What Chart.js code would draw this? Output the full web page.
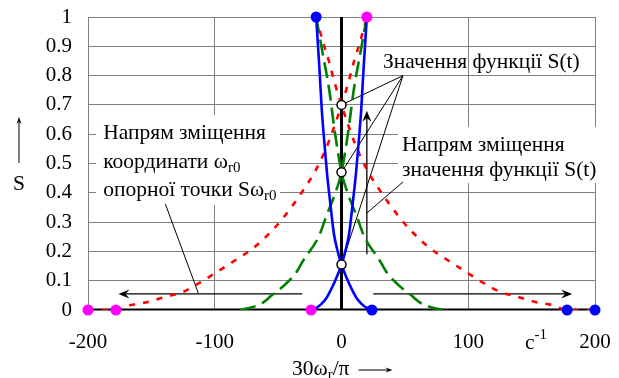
<!DOCTYPE html>
<html>
<head>
<meta charset="utf-8">
<script src="https://cdn.jsdelivr.net/npm/chart.js@4.4.0/dist/chart.umd.min.js"></script>
<style>
  html, body { margin: 0; padding: 0; background: #fff; }
</style>
</head>
<body>
<canvas id="chart" width="619" height="378"></canvas>
<script>
// axis ticks
var xTicks = [-200, -100, 0, 100, 200];
var yTicks = [0, 0.1, 0.2, 0.3, 0.4, 0.5, 0.6, 0.7, 0.8, 0.9, 1];

// red dotted curves
var redLeftX  = [-200, -178, -166, -153, -139, -125, -111, -100, -82, -70, -55, -45, -30, -20, -10, 0, 5, 10, 15, 20];
var redLeftY  = [0, 0, 0.017, 0.027, 0.045, 0.062, 0.095, 0.125, 0.175, 0.21, 0.27, 0.32, 0.41, 0.48, 0.575, 0.70, 0.77, 0.85, 0.92, 1];
var redRightX = [-20, -15, -10, -5, 0, 10, 20, 30, 45, 55, 70, 82, 100, 111, 125, 139, 153, 166, 178, 200];
var redRightY = [1, 0.92, 0.85, 0.77, 0.70, 0.575, 0.48, 0.41, 0.32, 0.27, 0.21, 0.175, 0.125, 0.095, 0.062, 0.045, 0.027, 0.017, 0, 0];

// green dashed curves
var greenLeftX  = [-80, -70, -62, -55, -45, -36, -30, -18, -12, -4, 0, 5, 10, 15, 20];
var greenLeftY  = [0, 0.01, 0.025, 0.05, 0.085, 0.126, 0.17, 0.25, 0.32, 0.41, 0.47, 0.6, 0.76, 0.88, 1];
var greenRightX = [-20, -15, -10, -5, 0, 4, 12, 18, 30, 36, 45, 55, 62, 70, 80];
var greenRightY = [1, 0.88, 0.76, 0.6, 0.47, 0.41, 0.32, 0.25, 0.17, 0.126, 0.085, 0.05, 0.025, 0.01, 0];

// blue solid curves
var blueLeftX  = [-24, -20, -16, -12, -8, -4, 0, 3, 6, 9, 11.5, 13.5, 15.5, 17.5, 20];
var blueLeftY  = [0, 0.007, 0.02, 0.04, 0.072, 0.11, 0.155, 0.2, 0.26, 0.37, 0.47, 0.57, 0.68, 0.83, 1];
var blueRightX = [-20, -17.5, -15.5, -13.5, -11.5, -9, -6, -3, 0, 4, 8, 12, 16, 20, 24];
var blueRightY = [1, 0.83, 0.68, 0.57, 0.47, 0.37, 0.26, 0.2, 0.155, 0.11, 0.072, 0.04, 0.02, 0.007, 0];

// end points of the curves
var magentaX = [-200, -178, -24, 20];
var magentaY = [0, 0, 0, 1];
var blueDotX = [-20, 24, 178, 200];
var blueDotY = [1, 0, 0, 0];

// values of S(t) at zero
var crossX = [0, 0, 0];
var crossY = [0.70, 0.47, 0.155];

// thick axis lines
var axisHX = [-200, 200], axisHY = [0, 0];
var axisVX = [0, 0], axisVY = [0, 1];

function pts(xs, ys) {
    return xs.map(function (x, i) { return { x: x, y: ys[i] }; });
}

var FONT = '"Liberation Serif", "Times New Roman", serif';

function richText(ctx, parts, x, y, size) {
    // parts: [text, 'sub'|'sup'|undefined]
    var cx = x;
    parts.forEach(function (p) {
        if (p[1] === 'sub') {
            ctx.font = Math.round(size * 0.68) + 'px ' + FONT;
            ctx.fillText(p[0], cx, y + size * 0.3);
        } else if (p[1] === 'sup') {
            ctx.font = Math.round(size * 0.68) + 'px ' + FONT;
            ctx.fillText(p[0], cx, y - size * 0.35);
        } else {
            ctx.font = size + 'px ' + FONT;
            ctx.fillText(p[0], cx, y);
        }
        cx += ctx.measureText(p[0]).width;
    });
    return cx;
}

function arrow(ctx, x1, y1, x2, y2, len, half) {
    var a = Math.atan2(y2 - y1, x2 - x1);
    ctx.beginPath();
    ctx.moveTo(x1, y1);
    ctx.lineTo(x2 - Math.cos(a) * 3, y2 - Math.sin(a) * 3);
    ctx.stroke();
    ctx.save();
    ctx.translate(x2, y2);
    ctx.rotate(a);
    ctx.beginPath();
    ctx.moveTo(0, 0);
    ctx.lineTo(-len, -half);
    ctx.lineTo(-len * 0.65, 0);
    ctx.lineTo(-len, half);
    ctx.closePath();
    ctx.fill();
    ctx.restore();
}

function noOverhang(s) {
    s.paddingTop = 0;
    s.paddingBottom = 0;
    s.paddingLeft = 0;
    s.paddingRight = 0;
}

var notes = {
    id: 'notes',
    beforeDatasetsDraw: function (chart) {
        var ctx = chart.ctx;
        var xs = chart.scales.x, ys = chart.scales.y;
        var X = function (v) { return xs.getPixelForValue(v); };
        var Y = function (v) { return ys.getPixelForValue(v); };
        var size = 21.5;

        ctx.save();
        // white boxes behind the labels
        ctx.fillStyle = '#fff';
        ctx.fillRect(96, 115, 184, 90);
        ctx.fillRect(398, 127, 221, 56);

        ctx.fillStyle = '#000';
        ctx.strokeStyle = '#000';
        ctx.textBaseline = 'middle';
        ctx.textAlign = 'left';

        // left label
        richText(ctx, [['Напрям зміщення']], X(-188), Y(0.604), size);
        richText(ctx, [['координати ω'], ['r0', 'sub']], X(-188), Y(0.505), size);
        richText(ctx, [['опорної точки Sω'], ['r0', 'sub']], X(-188), Y(0.41), size);

        // right labels
        richText(ctx, [['Значення функції S(t)']], X(32.7), Y(0.846), size);
        richText(ctx, [['Напрям зміщення']], X(47.7), Y(0.563), size);
        richText(ctx, [['значення функції S(t)']], X(47.7), Y(0.478), size);

        // pointer lines
        ctx.lineWidth = 1;
        ctx.beginPath();
        crossX.forEach(function (cx, i) {
            ctx.moveTo(X(48.5), Y(0.80));
            ctx.lineTo(X(cx), Y(crossY[i]));
        });
        ctx.moveTo(X(48.5), Y(0.437));
        ctx.lineTo(X(20), Y(0.331));
        ctx.moveTo(X(-139), Y(0.362));
        ctx.lineTo(X(-113), Y(0.058));
        ctx.stroke();

        // direction arrows
        ctx.lineWidth = 1.3;
        arrow(ctx, X(-31), Y(0.055), X(-176), Y(0.055), 11, 4.5);
        arrow(ctx, X(25), Y(0.055), X(182), Y(0.055), 11, 4.5);
        arrow(ctx, X(20), Y(0.19), X(20), Y(0.68), 11, 4.5);

        // axis titles
        var end = richText(ctx, [['30ω'], ['r', 'sub'], ['/π']], 292, 369, size);
        ctx.lineWidth = 1;
        arrow(ctx, end + 9, 370, end + 43, 370, 7, 2.5);
        richText(ctx, [['c'], ['-1', 'sup']], 525, 343, size);

        ctx.textAlign = 'center';
        ctx.font = size + 'px ' + FONT;
        ctx.fillText('S', 19, 184);
        arrow(ctx, 19, 163, 19, 117, 7, 2.5);
        ctx.restore();
    }
};

new Chart(document.getElementById('chart'), {
    type: 'scatter',
    data: {
        datasets: [
            { data: pts(crossX, crossY), showLine: false, pointRadius: 4.5, pointBackgroundColor: '#fff',
              pointBorderColor: '#000', pointBorderWidth: 1.5, order: 0, clip: false },
            { data: pts(magentaX, magentaY), showLine: false, pointRadius: 5.5, pointBackgroundColor: '#ff00ff',
              pointBorderWidth: 0, order: 1, clip: false },
            { data: pts(blueDotX, blueDotY), showLine: false, pointRadius: 5.5, pointBackgroundColor: '#0000ff',
              pointBorderWidth: 0, order: 1, clip: false },
            { data: pts(blueLeftX, blueLeftY), showLine: true, borderColor: '#0000ff', borderWidth: 2.6,
              pointRadius: 0, cubicInterpolationMode: 'monotone', order: 2 },
            { data: pts(blueRightX, blueRightY), showLine: true, borderColor: '#0000ff', borderWidth: 2.6,
              pointRadius: 0, cubicInterpolationMode: 'monotone', order: 2 },
            { data: pts(greenLeftX, greenLeftY), showLine: true, borderColor: '#008000', borderWidth: 2.6,
              borderDash: [16, 7], pointRadius: 0, cubicInterpolationMode: 'monotone', order: 3 },
            { data: pts(greenRightX, greenRightY), showLine: true, borderColor: '#008000', borderWidth: 2.6,
              borderDash: [16, 7], pointRadius: 0, cubicInterpolationMode: 'monotone', order: 3 },
            { data: pts(redLeftX, redLeftY), showLine: true, borderColor: '#ff0000', borderWidth: 2.6,
              borderDash: [6, 8], pointRadius: 0, cubicInterpolationMode: 'monotone', order: 4 },
            { data: pts(redRightX, redRightY), showLine: true, borderColor: '#ff0000', borderWidth: 2.6,
              borderDash: [6, 8], pointRadius: 0, cubicInterpolationMode: 'monotone', order: 4 },
            { data: pts(axisHX, axisHY), showLine: true, borderColor: '#000', borderWidth: 3,
              pointRadius: 0, order: 5 },
            { data: pts(axisVX, axisVY), showLine: true, borderColor: '#000', borderWidth: 3,
              pointRadius: 0, order: 5 }
        ]
    },
    options: {
        responsive: false,
        animation: false,
        layout: { padding: { top: 17, right: 24, left: 0, bottom: 0 } },
        plugins: { legend: { display: false }, tooltip: { enabled: false } },
        scales: {
            x: {
                type: 'linear', min: -200, max: 200,
                afterBuildTicks: function (s) { s.ticks = xTicks.map(function (v) { return { value: v }; }); },
                afterFit: function (s) { s.height = 68; noOverhang(s); },
                grid: { color: '#808080', lineWidth: 1, drawTicks: false },
                border: { color: '#808080', width: 1 },
                ticks: { color: '#000', padding: 20, maxRotation: 0, autoSkip: false,
                         font: { family: FONT, size: 21 } }
            },
            y: {
                type: 'linear', min: 0, max: 1,
                afterBuildTicks: function (s) { s.ticks = yTicks.map(function (v) { return { value: v }; }); },
                afterFit: function (s) { s.width = 88; noOverhang(s); },
                grid: { color: '#808080', lineWidth: 1, drawTicks: false },
                border: { color: '#808080', width: 1 },
                ticks: { color: '#000', padding: 16, autoSkip: false, font: { family: FONT, size: 21 },
                         callback: function (v) { return String(v); } }
            }
        }
    },
    plugins: [notes]
});
</script>
</body>
</html>
